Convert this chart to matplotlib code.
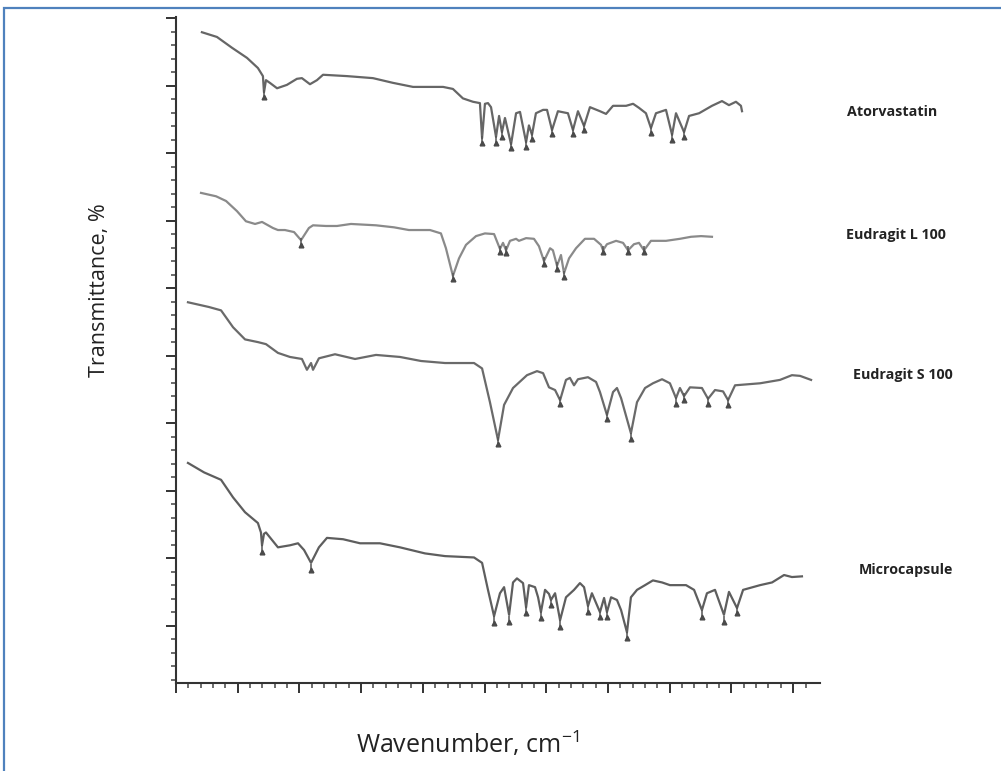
import matplotlib
matplotlib.use("Agg")
import matplotlib.pyplot as plt
import numpy as np
from matplotlib.patches import Rectangle

plt.rcParams["mathtext.fontset"] = "custom"
plt.rcParams["mathtext.rm"] = "Open Sans"

# FTIR spectra: wavenumber (cm-1) and transmittance (%)
ator_wn = [3855, 3771, 3687, 3603, 3542, 3514, 3508, 3497, 3475, 3435, 3380, 3324, 3296,
           3251, 3212, 3178, 3044, 2899, 2787, 2675, 2507, 2452, 2396, 2340, 2301, 2289,
           2273, 2256, 2239, 2211, 2194, 2178, 2161, 2127, 2099, 2077, 2043, 2027, 2010,
           1988, 1948, 1926, 1898, 1865, 1809, 1781, 1753, 1719, 1686, 1630, 1596, 1557,
           1484, 1445, 1412, 1373, 1345, 1317, 1261, 1227, 1205, 1160, 1132, 1076, 1004,
           948, 909, 870, 842, 836]
ator_t = [97.9, 97.2, 95.6, 94.1, 92.6, 91.4, 89.0, 90.8, 90.4, 89.6, 90.1, 91.0, 91.1,
          90.2, 90.8, 91.6, 91.4, 91.1, 90.4, 89.8, 89.8, 89.5, 88.1, 87.6, 87.4, 82.2,
          87.3, 87.4, 86.8, 82.4, 85.5, 83.1, 85.2, 81.3, 85.9, 86.1, 81.6, 84.1, 82.7,
          85.9, 86.4, 86.4, 83.4, 86.2, 85.9, 83.4, 86.2, 84.0, 86.8, 86.2, 85.8, 87.0,
          87.0, 87.3, 86.7, 85.9, 83.7, 85.9, 86.4, 82.7, 85.9, 83.1, 85.5, 85.9, 87.0,
          87.7, 87.1, 87.6, 87.0, 86.2]
ator_pk_wn = [3508, 2289, 2211, 2178, 2127, 2043, 2010, 1898, 1781, 1719, 1345, 1227, 1160]
ator_pk_t = [88.3, 81.5, 81.5, 82.4, 80.7, 80.9, 82.1, 82.8, 82.8, 83.4, 83.0, 81.9, 82.4]

l100_wn = [3860, 3776, 3720, 3659, 3609, 3558, 3519, 3458, 3430, 3391, 3340, 3301, 3257,
           3234, 3162, 3100, 3022, 2882, 2781, 2698, 2580, 2519, 2491, 2452, 2418, 2379,
           2323, 2273, 2222, 2189, 2172, 2155, 2133, 2099, 2083, 2043, 1999, 1971, 1943,
           1909, 1893, 1870, 1848, 1831, 1803, 1764, 1714, 1663, 1624, 1613, 1591, 1540,
           1501, 1473, 1440, 1412, 1384, 1345, 1261, 1183, 1121, 1065, 1004]
l100_t = [74.1, 73.6, 72.9, 71.4, 69.9, 69.5, 69.8, 68.9, 68.6, 68.6, 68.3, 67.1, 68.9,
          69.3, 69.2, 69.2, 69.5, 69.3, 69.0, 68.6, 68.6, 68.1, 65.9, 61.8, 64.4, 66.4,
          67.7, 68.1, 68.0, 65.8, 66.7, 65.6, 67.0, 67.3, 67.0, 67.4, 67.3, 66.2, 64.0,
          65.9, 65.6, 63.3, 64.9, 62.2, 64.4, 65.9, 67.3, 67.3, 66.4, 65.6, 66.5, 67.0,
          66.7, 65.6, 66.5, 66.7, 65.6, 67.0, 67.0, 67.3, 67.6, 67.7, 67.6]
l100_pk_wn = [3301, 2452, 2189, 2155, 1943, 1870, 1831, 1613, 1473, 1384]
l100_pk_t = [66.4, 61.3, 65.3, 65.2, 63.6, 62.8, 61.6, 65.3, 65.3, 65.3]

s100_wn = [3933, 3816, 3748, 3681, 3614, 3542, 3497, 3430, 3363, 3296, 3268, 3245, 3234,
           3201, 3111, 2999, 2882, 2748, 2630, 2496, 2334, 2289, 2245, 2200, 2166, 2116,
           2038, 1982, 1948, 1915, 1881, 1853, 1820, 1798, 1775, 1753, 1697, 1652, 1630,
           1591, 1557, 1535, 1512, 1457, 1423, 1378, 1334, 1283, 1239, 1205, 1183, 1160,
           1127, 1060, 1026, 987, 942, 914, 875, 735, 624, 557, 512, 450]
s100_t = [57.9, 57.2, 56.7, 54.2, 52.4, 52.0, 51.7, 50.4, 49.8, 49.5, 47.9, 48.9, 47.9,
          49.6, 50.2, 49.5, 50.1, 49.8, 49.2, 48.9, 48.9, 48.1, 43.1, 37.5, 42.7, 45.2,
          47.1, 47.7, 47.4, 45.3, 44.9, 43.4, 46.4, 46.7, 45.6, 46.5, 46.8, 46.1, 44.6,
          41.2, 44.6, 45.2, 43.7, 38.5, 43.1, 45.2, 45.9, 46.5, 45.9, 43.7, 45.2, 44.0,
          45.3, 45.2, 43.6, 44.9, 44.7, 43.4, 45.6, 45.9, 46.4, 47.1, 47.0, 46.4]
s100_pk_wn = [2200, 1853, 1591, 1457, 1205, 1160, 1026, 914]
s100_pk_t = [36.9, 42.8, 40.6, 37.6, 42.8, 43.4, 42.8, 42.7]

micro_wn = [3933, 3843, 3748, 3681, 3614, 3542, 3525, 3519, 3508, 3497, 3430, 3363, 3318,
            3284, 3245, 3201, 3156, 3066, 2971, 2860, 2748, 2608, 2496, 2334, 2289, 2256,
            2222, 2189, 2166, 2138, 2116, 2094, 2060, 2043, 2027, 1993, 1976, 1960, 1937,
            1915, 1904, 1881, 1853, 1820, 1775, 1742, 1719, 1697, 1675, 1630, 1607, 1591,
            1568, 1535, 1512, 1479, 1457, 1423, 1378, 1334, 1283, 1239, 1149, 1104, 1060,
            1032, 987, 937, 909, 864, 830, 735, 668, 601, 557, 501]
micro_t = [34.1, 32.7, 31.6, 29.0, 26.8, 25.2, 23.8, 21.9, 23.6, 23.8, 21.6, 21.9, 22.2,
           21.2, 19.3, 21.6, 23.0, 22.8, 22.2, 22.2, 21.6, 20.7, 20.3, 20.1, 19.3, 15.3,
           11.4, 14.8, 15.7, 11.6, 16.4, 17.0, 16.3, 12.7, 16.0, 15.7, 14.2, 12.0, 15.3,
           14.7, 13.8, 14.8, 10.8, 14.2, 15.3, 16.3, 15.7, 12.9, 14.8, 12.0, 14.1, 12.0,
           14.2, 13.8, 12.3, 9.0, 14.2, 15.3, 16.0, 16.7, 16.4, 16.0, 16.0, 15.3, 12.3,
           14.8, 15.3, 11.6, 15.0, 12.6, 15.3, 16.0, 16.4, 17.5, 17.2, 17.3]
micro_pk_wn = [3519, 3245, 2222, 2138, 2043, 1960, 1904, 1853, 1697, 1630, 1591, 1479,
               1060, 937, 864]
micro_pk_t = [20.9, 18.2, 10.4, 10.5, 11.9, 11.1, 13.0, 9.8, 12.0, 11.3, 11.3, 8.1,
              11.3, 10.5, 11.9]

names = ["Atorvastatin", "Eudragit L 100", "Eudragit S 100", "Microcapsule"]

fig = plt.figure(figsize=(10.01, 7.71), dpi=100)
ax = fig.add_axes([0.1758, 0.1141, 0.6434, 0.8638])

spectra = [(ator_wn, ator_t, ator_pk_wn, ator_pk_t, "#666666"),
           (l100_wn, l100_t, l100_pk_wn, l100_pk_t, "#8a8a8a"),
           (s100_wn, s100_t, s100_pk_wn, s100_pk_t, "#6a6a6a"),
           (micro_wn, micro_t, micro_pk_wn, micro_pk_t, "#5e5e5e")]

for wn, t, pwn, pt, col in spectra:
    ax.plot(wn, t, color=col, lw=1.6, solid_joinstyle="round")
    ax.vlines(pwn, np.array(pt), np.array(pt) + 1.0, color="#555555", lw=1.1)
    ax.plot(pwn, pt, ls="none", marker="^", ms=3.4, color="#4a4a4a")

ax.set_xlim(4000, 400)
ax.set_ylim(1.5, 100.15)
ax.set_xticks(np.arange(4000, 500, -345))
ax.set_xticks(np.arange(4000, 420, -69), minor=True)
ax.set_yticks(np.arange(10, 101, 10))
ax.set_yticks(np.arange(2, 101, 2), minor=True)
ax.tick_params(which="major", length=7, width=1.4, color="#333333",
               labelleft=False, labelbottom=False)
ax.tick_params(which="minor", length=3.5, width=1.1, color="#444444")
for s in ["top", "right"]:
    ax.spines[s].set_visible(False)
for s in ["left", "bottom"]:
    ax.spines[s].set_color("#333333")
    ax.spines[s].set_linewidth(1.5)

# sample names at the right
name_y = [112, 235, 375, 570]
name_x = [892, 896, 903, 906]
for n, px, py in zip(names, name_x, name_y):
    fig.text(px / 1001, 1 - py / 771, n, ha="center", va="center",
             fontsize=10.3, fontweight="bold", family="Open Sans", color="#222222")

fig.text(99 / 1001, 1 - 290 / 771, "Transmittance, %", rotation=90,
         ha="center", va="center", fontsize=15.5, family="Open Sans",
         color="#222222")
fig.text(468 / 1001, 1 - 744 / 771, r"Wavenumber, cm$^{\mathregular{-1}}$",
         ha="center", va="center", fontsize=18, family="Open Sans", color="#222222")

# blue frame around the picture
fig.patches.append(Rectangle((4 / 1001, -0.05), 1.1, 1 - 8 / 771 + 0.05,
                             transform=fig.transFigure, fill=False,
                             edgecolor="#4f81bd", lw=1.6))

fig.savefig("out.png", dpi=100)
